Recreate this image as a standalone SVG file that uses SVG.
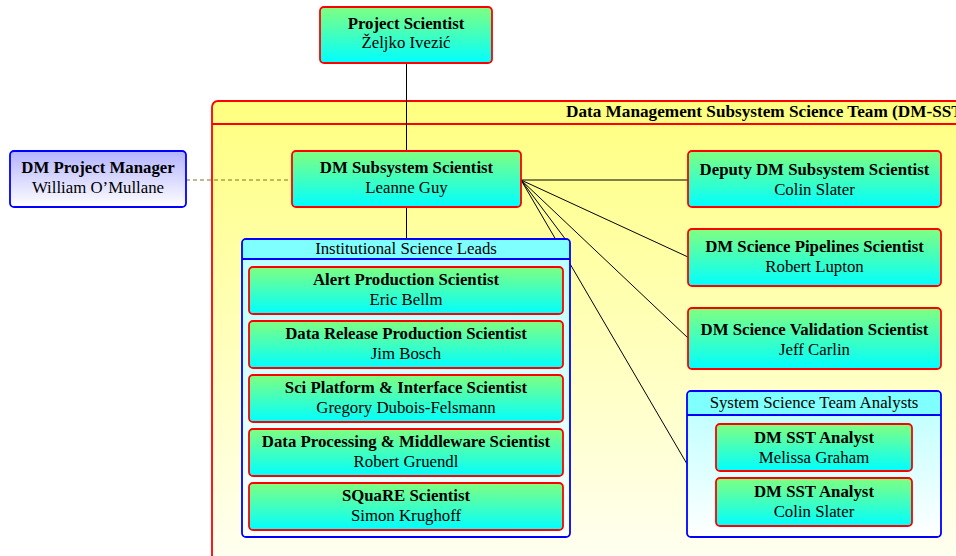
<svg xmlns="http://www.w3.org/2000/svg" width="956" height="556" viewBox="0 0 956 556">
<defs>
<linearGradient id="gc" x1="0" y1="0" x2="0" y2="1"><stop offset="0" stop-color="#80ff80"/><stop offset="1" stop-color="#00ffff"/></linearGradient>
<linearGradient id="gb" x1="0" y1="0" x2="0" y2="1"><stop offset="0" stop-color="#b3b3ff"/><stop offset="1" stop-color="#ffffff"/></linearGradient>
<linearGradient id="gcont" x1="0" y1="0" x2="0" y2="1"><stop offset="0" stop-color="#b8ffff"/><stop offset="1" stop-color="#ffffff"/></linearGradient>
<linearGradient id="gy" gradientUnits="userSpaceOnUse" x1="0" y1="101" x2="0" y2="556"><stop offset="0" stop-color="#ffff80"/><stop offset="1" stop-color="#fffff0"/></linearGradient>
</defs>
<style>
text{font-family:"Liberation Serif","Times New Roman",serif;font-size:16.8px;fill:#000;text-anchor:middle}
.b{font-weight:bold}
.n{fill:url(#gc);stroke:#ff0000;stroke-width:1.8}
.pm{fill:url(#gb);stroke:#0000ff;stroke-width:1.8}
.cont{fill:url(#gcont);stroke:#0000ff;stroke-width:1.8}
.hdr{fill:#80ffff}
.sep{stroke:#0000ff;stroke-width:1.8}
.ln{stroke:#000;stroke-width:1;fill:none}
</style>
<g id="dmsst">
<rect x="212" y="101" width="800" height="520" rx="6" fill="url(#gy)" stroke="#ff0000" stroke-width="1.8"/>
<line x1="212" y1="124" x2="956" y2="124" stroke="#ff0000" stroke-width="1.8"/>
<text class="b" x="566" y="117" style="text-anchor:start;font-size:17.2px">Data Management Subsystem Science Team (DM-SST)</text>
</g>
<g id="connectors">
<line class="ln" x1="406.5" y1="63" x2="406.5" y2="151"/>
<line class="ln" x1="406.5" y1="207" x2="406.5" y2="239"/>
<line x1="186" y1="180" x2="292" y2="180" stroke="#807020" stroke-width="1" stroke-dasharray="4,3"/>
<line class="ln" x1="521" y1="180" x2="688" y2="180"/>
<line class="ln" x1="521" y1="180" x2="688" y2="257"/>
<line class="ln" x1="521" y1="180" x2="688" y2="338"/>
<line class="ln" x1="521" y1="180" x2="687" y2="464"/>
<line class="ln" x1="521" y1="180" x2="566" y2="240"/>
</g>
<g id="project-scientist">
<rect class="n" x="320" y="7" width="172" height="56" rx="4"/>
<text class="b" x="406" y="29">Project Scientist</text>
<text x="406" y="48">Željko Ivezić</text>
</g>
<g id="dm-project-manager">
<rect class="pm" x="10" y="151" width="176" height="56" rx="4"/>
<text class="b" x="98" y="173">DM Project Manager</text>
<text x="98" y="193">William O’Mullane</text>
</g>
<g id="dm-subsystem-scientist">
<rect class="n" x="292" y="151" width="229" height="56" rx="4"/>
<text class="b" x="406.5" y="173">DM Subsystem Scientist</text>
<text x="406.5" y="193">Leanne Guy</text>
</g>
<g id="deputy">
<rect class="n" x="688" y="151" width="253" height="56" rx="4"/>
<text class="b" x="814.5" y="175">Deputy DM Subsystem Scientist</text>
<text x="814.5" y="195">Colin Slater</text>
</g>
<g id="pipelines">
<rect class="n" x="688" y="229" width="253" height="57" rx="4"/>
<text class="b" x="814.5" y="252">DM Science Pipelines Scientist</text>
<text x="814.5" y="272">Robert Lupton</text>
</g>
<g id="validation">
<rect class="n" x="688" y="308" width="253" height="61" rx="4"/>
<text class="b" x="814.5" y="335">DM Science Validation Scientist</text>
<text x="814.5" y="355">Jeff Carlin</text>
</g>
<g id="institutional-leads">
<rect class="cont" x="242" y="239" width="328" height="298" rx="4"/>
<path class="hdr" d="M243,259 V243 a3,3 0 0 1 3,-3 H566 a3,3 0 0 1 3,3 V259 Z"/>
<line class="sep" x1="242" y1="259" x2="570" y2="259"/>
<text x="406" y="254">Institutional Science Leads</text>
</g>
<g id="alert-production">
<rect class="n" x="249" y="267" width="314" height="47" rx="4"/>
<text class="b" x="406" y="285">Alert Production Scientist</text>
<text x="406" y="305">Eric Bellm</text>
</g>
<g id="data-release">
<rect class="n" x="249" y="321" width="314" height="47" rx="4"/>
<text class="b" x="406" y="339">Data Release Production Scientist</text>
<text x="406" y="359">Jim Bosch</text>
</g>
<g id="sci-platform">
<rect class="n" x="249" y="375" width="314" height="47" rx="4"/>
<text class="b" x="406" y="393">Sci Platform &amp; Interface Scientist</text>
<text x="406" y="413">Gregory Dubois-Felsmann</text>
</g>
<g id="data-processing">
<rect class="n" x="249" y="429" width="314" height="47" rx="4"/>
<text class="b" x="406" y="447">Data Processing &amp; Middleware Scientist</text>
<text x="406" y="467">Robert Gruendl</text>
</g>
<g id="square">
<rect class="n" x="249" y="483" width="314" height="47" rx="4"/>
<text class="b" x="406" y="501">SQuaRE Scientist</text>
<text x="406" y="521">Simon Krughoff</text>
</g>
<g id="analysts">
<rect class="cont" x="687" y="391" width="254" height="146" rx="4"/>
<path class="hdr" d="M688,415 V395 a3,3 0 0 1 3,-3 H937 a3,3 0 0 1 3,3 V415 Z"/>
<line class="sep" x1="687" y1="415" x2="941" y2="415"/>
<text x="814" y="408">System Science Team Analysts</text>
</g>
<g id="analyst-graham">
<rect class="n" x="716" y="424" width="196" height="47" rx="4"/>
<text class="b" x="814" y="443">DM SST Analyst</text>
<text x="814" y="463">Melissa Graham</text>
</g>
<g id="analyst-slater">
<rect class="n" x="716" y="478" width="196" height="48" rx="4"/>
<text class="b" x="814" y="497">DM SST Analyst</text>
<text x="814" y="517">Colin Slater</text>
</g>
</svg>
